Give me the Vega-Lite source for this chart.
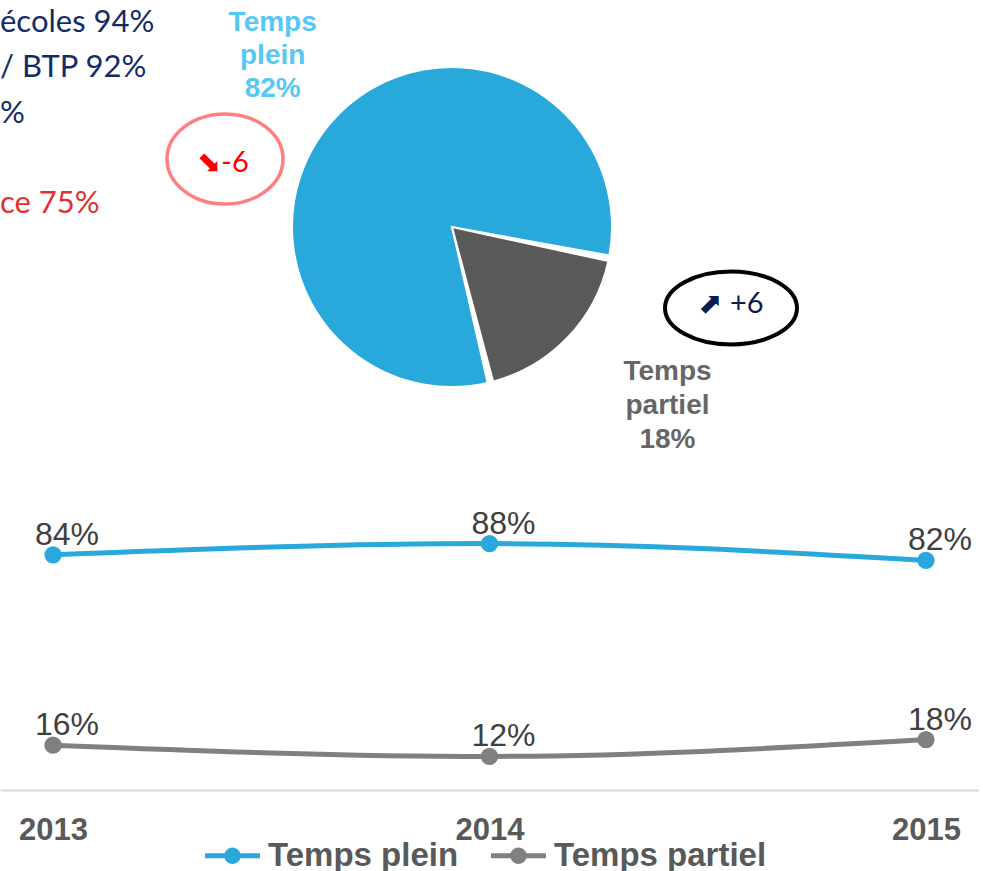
{
  "$schema": "https://vega.github.io/schema/vega-lite/v6.json",
  "padding": 0,
  "autosize": {"type": "pad"},
  "background": "white",
  "bounds": "flush",
  "spacing": 58,
  "config": {"view": {"stroke": null}},
  "datasets": {
    "repartition": [
      {"serie": "Temps plein", "part": 82, "etiquette": "Temps plein 82%", "variation": -6, "fleche": "⬊-6"},
      {"serie": "Temps partiel", "part": 18, "etiquette": "Temps partiel 18%", "variation": 6, "fleche": "⬈ +6"}
    ],
    "encadre": [
      {"ligne": 1, "texte": "écoles 94%"},
      {"ligne": 2, "texte": "/ BTP 92%"},
      {"ligne": 3, "texte": "%"},
      {"ligne": 5, "texte": "ce 75%"}
    ],
    "evolution": [
      {"annee": "2013", "serie": "Temps plein", "taux": 0.84},
      {"annee": "2014", "serie": "Temps plein", "taux": 0.88},
      {"annee": "2015", "serie": "Temps plein", "taux": 0.82},
      {"annee": "2013", "serie": "Temps partiel", "taux": 0.16},
      {"annee": "2014", "serie": "Temps partiel", "taux": 0.12},
      {"annee": "2015", "serie": "Temps partiel", "taux": 0.18}
    ]
  },
  "resolve": {"scale": {"color": "independent"}},
  "vconcat": [
    {
      "width": 904,
      "height": 450,
      "resolve": {"scale": {"x": "independent", "y": "independent"}},
      "layer": [
        {
          "data": {"name": "encadre"},
          "mark": {"type": "text", "align": "left", "baseline": "middle", "font": "Lato", "fontSize": 31},
          "encoding": {
            "x": {"value": 0},
            "y": {"field": "ligne", "type": "quantitative", "scale": {"domain": [1, 5], "range": [21, 202]}, "axis": null},
            "text": {"field": "texte"},
            "color": {"condition": {"test": "datum.ligne === 5", "value": "#E2312C"}, "value": "#112B6B"}
          }
        },
        {
          "data": {"name": "repartition"},
          "mark": {"type": "arc", "outerRadius": 160, "padAngle": 0.035, "stroke": "white", "strokeWidth": 2},
          "encoding": {
            "theta": {"field": "part", "type": "quantitative", "stack": true, "scale": {"range": [1.768, 8.051]}},
            "order": {"field": "serie", "sort": "ascending"},
            "color": {"field": "serie", "type": "nominal", "scale": {"domain": ["Temps plein", "Temps partiel"], "range": ["#29A9DB", "#595959"]}, "legend": null}
          }
        },
        {
          "data": {"name": "repartition"},
          "mark": {"type": "text", "radius": 248, "dy": -33, "font": "Liberation Sans", "fontWeight": "bold", "fontSize": 28, "lineBreak": " ", "lineHeight": 33, "align": "center", "baseline": "middle", "color": "#55C8F5"},
          "encoding": {
            "theta": {"field": "part", "type": "quantitative", "stack": true},
            "order": {"field": "serie", "sort": "ascending"},
            "text": {"condition": {"test": "datum.serie === 'Temps plein'", "field": "etiquette"}, "value": ""}
          }
        },
        {
          "data": {"name": "repartition"},
          "mark": {"type": "text", "radius": 280, "dy": -34, "thetaOffset": -0.07, "font": "Liberation Sans", "fontWeight": "bold", "fontSize": 28, "lineBreak": " ", "lineHeight": 34, "align": "center", "baseline": "middle", "color": "#666666"},
          "encoding": {
            "theta": {"field": "part", "type": "quantitative", "stack": true},
            "order": {"field": "serie", "sort": "ascending"},
            "text": {"condition": {"test": "datum.serie === 'Temps partiel'", "field": "etiquette"}, "value": ""}
          }
        },
        {
          "data": {"name": "repartition"},
          "transform": [{"filter": "datum.variation < 0"}],
          "mark": {"type": "point", "shape": "M-1,0A1,0.776 0 1,0 1,0A1,0.776 0 1,0 -1,0Z", "size": 13456, "filled": false, "stroke": "#FF7F7F", "strokeWidth": 3.5, "opacity": 1},
          "encoding": {
            "x": {"field": "variation", "type": "quantitative", "scale": {"domain": [-6, 6], "range": [225, 731]}, "axis": null},
            "y": {"field": "variation", "type": "quantitative", "scale": {"domain": [-6, 6], "range": [157, 306]}, "axis": null}
          }
        },
        {
          "data": {"name": "repartition"},
          "transform": [{"filter": "datum.variation > 0"}],
          "mark": {"type": "point", "shape": "M-1,0A1,0.553 0 1,0 1,0A1,0.553 0 1,0 -1,0Z", "size": 17424, "filled": false, "stroke": "#000000", "strokeWidth": 4, "opacity": 1},
          "encoding": {
            "x": {"field": "variation", "type": "quantitative", "scale": {"domain": [-6, 6], "range": [225, 731]}, "axis": null},
            "y": {"field": "variation", "type": "quantitative", "scale": {"domain": [-6, 6], "range": [157, 306]}, "axis": null}
          }
        },
        {
          "data": {"name": "repartition"},
          "mark": {"type": "text", "font": "Lato, DejaVu Sans", "fontSize": 29, "align": "center", "baseline": "middle"},
          "encoding": {
            "x": {"field": "variation", "type": "quantitative", "scale": {"domain": [-6, 6], "range": [223, 731]}, "axis": null},
            "y": {"field": "variation", "type": "quantitative", "scale": {"domain": [-6, 6], "range": [161, 302]}, "axis": null},
            "text": {"field": "fleche"},
            "color": {"condition": {"test": "datum.variation < 0", "value": "#FF0000"}, "value": "#0D1D4D"}
          }
        }
      ]
    },
    {
      "width": 979,
      "height": 280,
      "data": {"name": "evolution"},
      "encoding": {
        "x": {
          "field": "annee", "type": "ordinal",
          "scale": {"type": "point", "padding": 0.1215},
          "axis": {"title": null, "labelAngle": 0, "ticks": false, "grid": false, "domainColor": "#D9D9D9", "domainWidth": 2, "labelFont": "Liberation Sans", "labelFontWeight": "bold", "labelFontSize": 31, "labelColor": "#595959", "labelPadding": 25}
        },
        "y": {"field": "taux", "type": "quantitative", "scale": {"domain": [0, 1]}, "axis": null}
      },
      "layer": [
        {
          "mark": {"type": "point", "filled": true, "size": 300, "opacity": 1},
          "encoding": {
            "color": {
              "field": "serie", "type": "nominal",
              "scale": {"domain": ["Temps plein", "Temps partiel"], "range": ["#29A9DB", "#808080"]},
              "legend": {
                "orient": "none", "legendX": 205, "legendY": 318, "direction": "horizontal", "title": null,
                "symbolType": "M-1,-0.09L1,-0.09L1,0.09L-1,0.09Z M-0.3,0A0.3,0.3 0 1,1 0.3,0A0.3,0.3 0 1,1 -0.3,0Z",
                "symbolSize": 3025, "symbolStrokeWidth": 0, "symbolOpacity": 1,
                "labelFont": "Liberation Sans", "labelFontWeight": "bold", "labelFontSize": 33, "labelColor": "#595959",
                "labelOffset": 8, "labelLimit": 400, "columnPadding": 32
              }
            }
          }
        },
        {
          "mark": {"type": "line", "strokeWidth": 5, "interpolate": "monotone"},
          "encoding": {
            "color": {"field": "serie", "type": "nominal", "legend": null}
          }
        },
        {
          "mark": {"type": "text", "font": "Liberation Sans", "fontSize": 32, "dx": 14, "dy": -10, "align": "center", "baseline": "alphabetic"},
          "encoding": {
            "text": {"field": "taux", "type": "quantitative", "format": ".0%"},
            "color": {"value": "#404040"}
          }
        }
      ]
    }
  ]
}
